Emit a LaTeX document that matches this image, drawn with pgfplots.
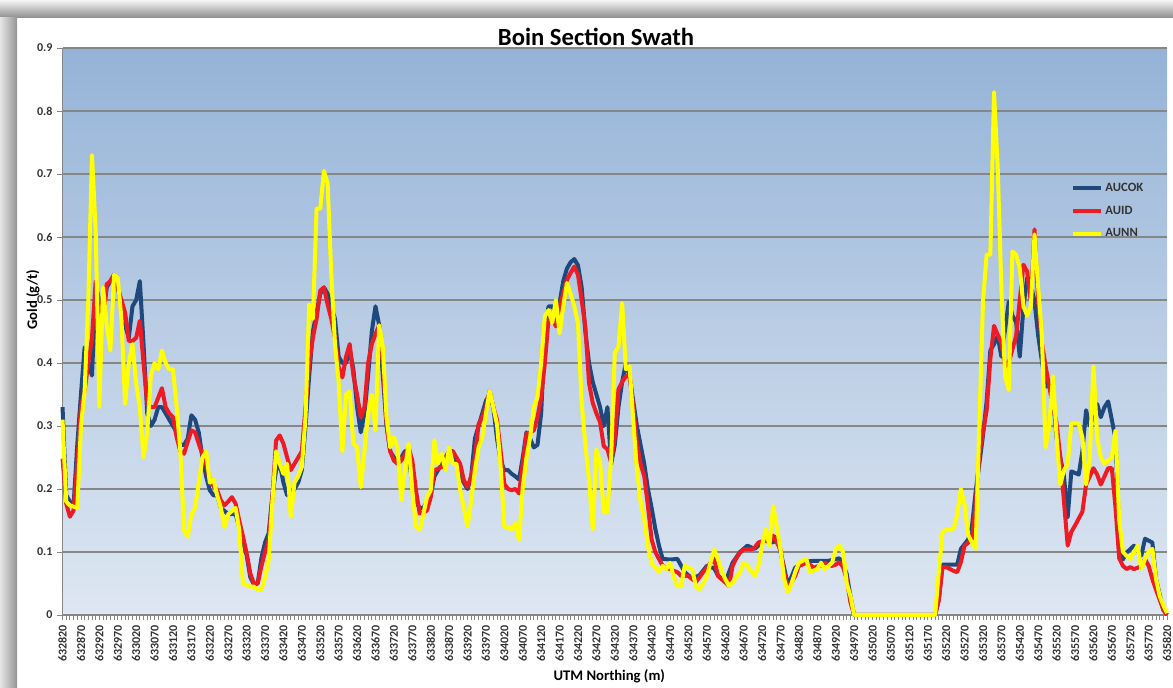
\documentclass[border=0pt]{standalone}
\usepackage{pgfplots}
\pgfplotsset{compat=1.18}
\usepackage{fontspec}
\setmainfont{Carlito}
\definecolor{aucok}{RGB}{31,73,125}
\definecolor{auid}{RGB}{237,28,36}
\definecolor{aunn}{RGB}{255,255,0}
\definecolor{bgtop}{RGB}{149,179,215}
\definecolor{bgbot}{RGB}{222,231,242}
\definecolor{gridc}{RGB}{134,134,134}

\begin{document}
\begin{tikzpicture}
\useasboundingbox (0pt,0pt) rectangle (879.75pt,516pt);
\fill[white] (0pt,0pt) rectangle (879.75pt,516pt);
% frame shadow, top and left
\shade[top color=black!4, bottom color=black!45] (0pt,502.5pt) rectangle (879.75pt,516pt);
\shade[left color=black!10, right color=black!42] (0pt,0pt) rectangle (12.75pt,503pt);
\begin{axis}[
  at={(46.9pt,54.75pt)}, anchor=south west,
  scale only axis, width=828.4pt, height=425.25pt,
  xmin=0, xmax=300, ymin=0, ymax=0.9,
  clip=false,
  axis x line*=bottom, axis y line*=left,
  axis line style={gridc, line width=0.8pt},
  axis background/.style={top color=bgtop, bottom color=bgbot},
  ytick={0,0.1,0.2,0.3,0.4,0.5,0.6,0.7,0.8,0.9},
  yticklabels={0,0.1,0.2,0.3,0.4,0.5,0.6,0.7,0.8,0.9},
  ymajorgrids, major grid style={gridc, line width=1pt},
  xtick={0,5,...,300},
  xticklabels={632820,632870,632920,632970,633020,633070,633120,633170,633220,633270,
    633320,633370,633420,633470,633520,633570,633620,633670,633720,633770,
    633820,633870,633920,633970,634020,634070,634120,634170,634220,634270,
    634320,634370,634420,634470,634520,634570,634620,634670,634720,634770,
    634820,634870,634920,634970,635020,635070,635120,635170,635220,635270,
    635320,635370,635420,635470,635520,635570,635620,635670,635720,635770,635820},
  minor x tick num=4,
  tick align=outside, major tick length=4pt, minor tick length=4pt,
  tick style={gridc, line width=0.6pt},
  x tick label style={rotate=90, anchor=east, font=\bfseries\small, text=black!80},
  y tick label style={font=\bfseries\small, text=black!80},
  title={Boin Section Swath},
  title style={at={(axis description cs:0.483,1.005)}, anchor=center, font=\bfseries\fontsize{18.5}{20}\selectfont},
  xlabel={UTM Northing (m)},
  xlabel style={at={(axis description cs:0.495,-0.109)}, anchor=center, font=\bfseries\fontsize{11}{13}\selectfont},
  ylabel={Gold (g/t)},
  ylabel style={at={(axis description cs:-0.0267,0.556)}, anchor=center, font=\bfseries\fontsize{11}{13}\selectfont},
  legend style={at={(axis description cs:0.909,0.772)}, anchor=north west, draw=none, fill=none,
    font=\bfseries\fontsize{9.5}{11}\selectfont, text=black!80, row sep=5.5pt},
  legend cell align=left,
  legend image code/.code={\draw[#1] (0pt,0pt) -- (21pt,0pt);},
]
\addplot[aucok, line width=3pt, line join=round, mark=none] coordinates {
(0,0.33)(1,0.19)(2,0.18)(3,0.174)(4,0.27)(5,0.35)(6,0.425)(7,0.40)(8,0.38)(9,0.52)(10,0.50)
(11,0.47)(12,0.52)(13,0.53)(14,0.54)(15,0.52)(16,0.49)(17,0.46)(18,0.44)(19,0.49)(20,0.50)
(21,0.53)(22,0.43)(23,0.32)(24,0.30)(25,0.31)(26,0.33)(27,0.33)(28,0.32)(29,0.31)(30,0.30)
(31,0.29)(32,0.27)(33,0.27)(34,0.28)(35,0.317)(36,0.31)(37,0.29)(38,0.25)(39,0.22)(40,0.198)
(41,0.19)(42,0.19)(43,0.17)(44,0.165)(45,0.16)(46,0.16)(47,0.16)(48,0.14)(50,0.095)
(51,0.06)(52,0.048)(53,0.05)(54,0.09)(55,0.115)(56,0.13)(57,0.19)(58,0.23)(59,0.24)(60,0.21)
(61,0.19)(62,0.19)(63,0.20)(64,0.21)(65,0.23)(66,0.30)(67,0.38)(68,0.45)(69,0.48)(70,0.51)
(71,0.52)(72,0.51)(73,0.49)(74,0.47)(75,0.41)(76,0.40)(77,0.40)(78,0.42)(79,0.39)(80,0.33)
(81,0.29)(82,0.32)(83,0.38)(84,0.45)(85,0.49)(86,0.46)(87,0.38)(88,0.30)(89,0.26)(90,0.25)
(91,0.24)(92,0.25)(93,0.26)(94,0.25)(95,0.21)(96,0.18)(97,0.17)(98,0.17)(99,0.18)(100,0.19)
(101,0.22)(102,0.23)(103,0.24)(104,0.25)(105,0.26)(106,0.26)(107,0.24)(108,0.22)(109,0.21)(110,0.20)
(111,0.22)(112,0.28)(113,0.30)(114,0.32)(115,0.34)(116,0.35)(117,0.33)(118,0.28)(119,0.245)(120,0.23)
(121,0.23)(122,0.224)(123,0.22)(124,0.215)(125,0.25)(126,0.29)(127,0.28)(128,0.266)(129,0.27)(130,0.32)
(131,0.45)(132,0.49)(133,0.49)(134,0.48)(135,0.495)(136,0.53)(137,0.55)(138,0.56)(139,0.565)(140,0.555)
(141,0.52)(142,0.45)(143,0.40)(144,0.37)(145,0.35)(146,0.33)(147,0.30)(148,0.33)(149,0.24)(150,0.27)
(151,0.33)(152,0.37)(153,0.40)(154,0.38)(155,0.34)(156,0.30)(157,0.27)(158,0.24)(159,0.20)(160,0.17)
(161,0.137)(162,0.11)(163,0.089)(165,0.088)(167,0.089)(169,0.068)(171,0.058)(173,0.063)(175,0.078)
(177,0.074)(178,0.063)(180,0.052)(182,0.083)(184,0.10)(186,0.11)(188,0.105)(191,0.12)(193,0.115)
(194,0.125)(196,0.075)(197,0.047)(199,0.075)(201,0.084)(204,0.086)(206,0.086)(208,0.086)(211,0.09)
(212,0.08)(213,0.065)(214,0.03)(215,0)(237,0)(238,0.024)(239,0.08)(241,0.08)(243,0.08)(244,0.105)
(246,0.12)(247,0.14)(248,0.195)(250,0.285)(251,0.34)(252,0.42)(253,0.43)(254,0.443)(255,0.41)
(257,0.497)(258,0.475)(259,0.465)(260,0.41)(261,0.49)(262,0.535)(263,0.525)(264,0.497)(265,0.443)
(267,0.363)(268,0.363)(269,0.352)(270,0.28)(272,0.22)(273,0.155)(274,0.228)(276,0.223)(277,0.26)
(278,0.325)(279,0.30)(281,0.335)(282,0.314)(283,0.33)(284,0.339)(286,0.28)(287,0.13)(288,0.088)
(289,0.099)(291,0.11)(293,0.094)(294,0.121)(296,0.115)(297,0.057)(299,0.008)(300,0)
};
\addlegendentry{AUCOK}
\addplot[auid, line width=3pt, line join=round, mark=none] coordinates {
(0,0.248)(1,0.177)(2,0.156)(3,0.166)(4,0.24)(5,0.33)(6,0.356)(7,0.40)(8,0.44)(9,0.53)(10,0.49)
(11,0.47)(12,0.525)(13,0.53)(14,0.54)(15,0.52)(16,0.50)(17,0.48)(18,0.435)(19,0.435)(20,0.44)
(21,0.467)(22,0.40)(23,0.335)(24,0.33)(25,0.33)(26,0.345)(27,0.36)(28,0.33)(29,0.32)(30,0.314)
(31,0.282)(32,0.26)(33,0.256)(34,0.275)(35,0.293)(36,0.29)(37,0.272)(38,0.255)(39,0.24)(40,0.214)
(41,0.205)(42,0.198)(43,0.182)(44,0.174)(45,0.18)(46,0.187)(47,0.177)(48,0.15)(49,0.125)(50,0.098)
(51,0.066)(52,0.05)(53,0.05)(54,0.077)(55,0.10)(56,0.119)(57,0.187)(58,0.277)(59,0.285)(60,0.272)
(61,0.25)(62,0.23)(63,0.24)(64,0.25)(65,0.26)(66,0.33)(67,0.40)(68,0.44)(69,0.47)(70,0.515)
(71,0.52)(72,0.493)(73,0.47)(74,0.44)(75,0.393)(76,0.377)(77,0.41)(78,0.43)(79,0.38)(80,0.35)
(81,0.314)(82,0.33)(83,0.40)(84,0.43)(85,0.446)(86,0.46)(87,0.40)(88,0.303)(89,0.26)(90,0.245)
(91,0.24)(92,0.245)(93,0.255)(94,0.266)(95,0.245)(96,0.198)(97,0.161)(98,0.163)(99,0.166)(100,0.187)
(101,0.23)(102,0.232)(103,0.235)(104,0.248)(105,0.26)(106,0.26)(107,0.25)(108,0.24)(109,0.214)(110,0.203)
(111,0.22)(112,0.25)(113,0.303)(114,0.314)(115,0.33)(116,0.356)(117,0.33)(118,0.31)(119,0.26)(120,0.208)
(121,0.20)(122,0.198)(123,0.20)(124,0.193)(125,0.24)(126,0.288)(127,0.29)(128,0.293)(129,0.314)(130,0.345)
(131,0.40)(132,0.47)(133,0.474)(134,0.458)(135,0.49)(136,0.51)(137,0.532)(138,0.543)(139,0.553)(140,0.54)
(141,0.50)(142,0.458)(143,0.368)(144,0.337)(145,0.32)(146,0.306)(147,0.268)(148,0.263)(149,0.242)(150,0.284)
(151,0.358)(152,0.37)(153,0.379)(154,0.379)(155,0.331)(156,0.273)(157,0.24)(158,0.22)(159,0.173)(160,0.12)
(161,0.10)(162,0.089)(163,0.078)(164,0.075)(165,0.073)(166,0.07)(167,0.068)(168,0.062)(169,0.062)(170,0.062)
(171,0.057)(172,0.052)(173,0.06)(174,0.068)(175,0.075)(176,0.083)(177,0.089)(178,0.062)(179,0.057)(180,0.052)
(181,0.046)(182,0.078)(183,0.09)(184,0.099)(185,0.104)(186,0.104)(187,0.104)(188,0.107)(189,0.115)(190,0.117)
(191,0.118)(192,0.115)(193,0.126)(194,0.115)(195,0.104)(196,0.068)(197,0.042)(198,0.052)(199,0.062)(200,0.078)
(201,0.08)(202,0.083)(203,0.08)(204,0.075)(205,0.077)(206,0.078)(207,0.083)(208,0.08)(209,0.078)(210,0.08)
(211,0.084)(212,0.076)(213,0.057)(214,0.02)(215,0)(237,0)(238,0.024)(239,0.076)(240,0.076)
(241,0.073)(242,0.07)(243,0.068)(244,0.084)(245,0.11)(246,0.115)(247,0.121)(248,0.175)(249,0.255)(250,0.29)
(251,0.325)(252,0.406)(253,0.459)(254,0.445)(255,0.432)(256,0.395)(257,0.40)(258,0.422)(259,0.443)(260,0.50)
(261,0.556)(262,0.545)(263,0.497)(264,0.612)(265,0.497)(266,0.432)(267,0.395)(268,0.363)(269,0.33)(270,0.304)
(271,0.25)(272,0.18)(273,0.11)(274,0.132)(275,0.142)(276,0.153)(277,0.164)(278,0.207)(279,0.22)(280,0.233)
(281,0.223)(282,0.207)(283,0.22)(284,0.233)(285,0.233)(286,0.17)(287,0.09)(288,0.078)(289,0.073)(290,0.076)
(291,0.073)(292,0.075)(293,0.078)(294,0.089)(295,0.078)(296,0.057)(297,0.04)(298,0.024)(299,0.008)(300,0)
};
\addlegendentry{AUID}
\addplot[aunn, line width=3pt, line join=round, mark=none] coordinates {
(0,0.31)(1,0.18)(2,0.174)(3,0.172)(4,0.17)(5,0.30)(6,0.355)(7,0.50)(8,0.73)(9,0.61)(10,0.33)
(11,0.52)(12,0.46)(13,0.42)(14,0.54)(15,0.535)(16,0.47)(17,0.335)(18,0.40)(19,0.43)(20,0.367)
(21,0.33)(22,0.25)(23,0.29)(24,0.38)(25,0.40)(26,0.39)(27,0.42)(28,0.40)(29,0.39)(30,0.39)
(31,0.33)(32,0.26)(33,0.135)(34,0.124)(35,0.16)(36,0.17)(37,0.21)(38,0.25)(39,0.26)(40,0.21)
(41,0.215)(42,0.19)(43,0.17)(44,0.14)(45,0.16)(46,0.165)(47,0.17)(48,0.135)(49,0.05)(50,0.048)
(51,0.045)(52,0.045)(53,0.04)(54,0.04)(55,0.06)(56,0.087)(57,0.18)(58,0.26)(59,0.24)(60,0.224)
(61,0.24)(62,0.156)(63,0.21)(64,0.22)(65,0.235)(66,0.314)(67,0.493)(68,0.47)(69,0.645)(70,0.645)
(71,0.705)(72,0.685)(73,0.54)(74,0.43)(75,0.37)(76,0.26)(77,0.35)(78,0.355)(79,0.272)(80,0.266)
(81,0.203)(82,0.26)(83,0.32)(84,0.35)(85,0.293)(86,0.46)(87,0.425)(88,0.314)(89,0.266)(90,0.282)
(91,0.266)(92,0.182)(93,0.23)(94,0.272)(95,0.198)(96,0.14)(97,0.135)(98,0.16)(99,0.187)(100,0.198)
(101,0.277)(102,0.24)(103,0.256)(104,0.23)(105,0.266)(106,0.24)(107,0.24)(108,0.198)(109,0.17)(110,0.14)
(111,0.182)(112,0.23)(113,0.266)(114,0.282)(115,0.32)(116,0.356)(117,0.33)(118,0.303)(119,0.235)(120,0.14)
(121,0.14)(122,0.135)(123,0.145)(124,0.119)(125,0.203)(126,0.25)(127,0.282)(128,0.33)(129,0.346)(130,0.40)
(131,0.474)(132,0.484)(133,0.464)(134,0.50)(135,0.447)(136,0.49)(137,0.527)(138,0.51)(139,0.49)(140,0.463)
(141,0.337)(142,0.27)(143,0.215)(144,0.136)(145,0.263)(146,0.242)(147,0.163)(148,0.163)(149,0.25)(150,0.416)
(151,0.426)(152,0.495)(153,0.39)(154,0.395)(155,0.31)(156,0.231)(157,0.18)(158,0.152)(159,0.11)(160,0.083)
(161,0.075)(162,0.068)(163,0.078)(164,0.073)(165,0.083)(166,0.06)(167,0.046)(168,0.046)(169,0.078)(170,0.075)
(171,0.073)(172,0.046)(173,0.041)(174,0.05)(175,0.062)(176,0.083)(177,0.104)(178,0.089)(179,0.07)(180,0.057)
(181,0.046)(182,0.052)(183,0.06)(184,0.068)(185,0.083)(186,0.078)(187,0.07)(188,0.062)(189,0.078)(190,0.11)
(191,0.136)(192,0.11)(193,0.173)(194,0.14)(195,0.104)(196,0.057)(197,0.036)(198,0.05)(199,0.068)(200,0.083)
(202,0.089)(203,0.068)(205,0.073)(206,0.083)(207,0.073)(209,0.083)(210,0.104)(211,0.11)(212,0.10)
(213,0.05)(214,0.03)(215,0)(237,0)(238,0.068)(239,0.132)(240,0.135)(242,0.137)(243,0.159)(244,0.20)
(245,0.175)(246,0.127)(247,0.115)(248,0.105)(249,0.30)(250,0.497)(251,0.572)(252,0.572)(253,0.83)(254,0.71)
(255,0.518)(256,0.379)(257,0.357)(258,0.577)(259,0.572)(260,0.55)(261,0.49)(262,0.475)(263,0.49)(264,0.604)
(265,0.52)(266,0.443)(267,0.266)(268,0.30)(269,0.379)(270,0.282)(271,0.207)(272,0.23)(273,0.24)(274,0.304)
(275,0.304)(276,0.304)(277,0.282)(278,0.207)(279,0.25)(280,0.395)(281,0.282)(282,0.25)(283,0.24)(284,0.245)
(285,0.25)(286,0.293)(287,0.15)(288,0.10)(289,0.094)(290,0.089)(291,0.10)(292,0.11)(293,0.073)(294,0.089)
(295,0.10)(296,0.105)(297,0.057)(298,0.03)(299,0.015)(300,0.003)
};
\addlegendentry{AUNN}
\end{axis}
\end{tikzpicture}
\end{document}
